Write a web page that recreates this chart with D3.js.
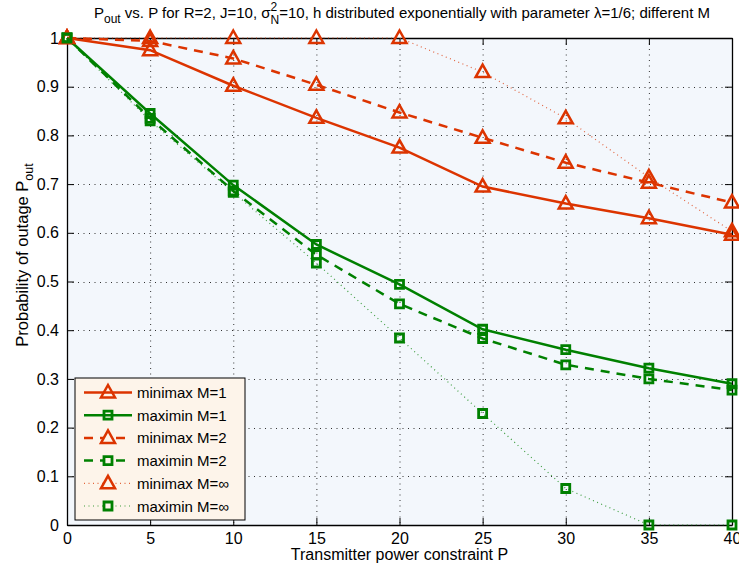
<!DOCTYPE html>
<html>
<head>
<meta charset="utf-8">
<script src="https://cdn.jsdelivr.net/npm/d3@7"></script>
<style>
  html, body { margin: 0; padding: 0; background: #fff; }
  svg { display: block; font-family: "Liberation Sans", Arial, sans-serif; }
</style>
</head>
<body>
<svg id="chart" width="739" height="571"></svg>
<script>
// 데이터 — 그림에서 읽은 값
var powerP = [0, 5, 10, 15, 20, 25, 30, 35, 40];
var minimaxM1   = [1.0, 0.975, 0.902, 0.836, 0.775, 0.695, 0.660, 0.630, 0.596];
var maximinM1   = [1.0, 0.845, 0.698, 0.576, 0.494, 0.402, 0.360, 0.322, 0.290];
var minimaxM2   = [1.0, 0.994, 0.958, 0.904, 0.847, 0.795, 0.744, 0.703, 0.662];
var maximinM2   = [1.0, 0.835, 0.686, 0.555, 0.454, 0.383, 0.329, 0.300, 0.277];
var minimaxMinf = [1.0, 1.0, 1.0, 1.0, 1.0, 0.930, 0.835, 0.714, 0.603];
var maximinMinf = [1.0, 0.830, 0.683, 0.538, 0.384, 0.229, 0.075, 0.0, 0.0];
var seriesNames = ["minimax M=1", "maximin M=1", "minimax M=2", "maximin M=2", "minimax M=\u221e", "maximin M=\u221e"];
var xTicks = [0, 5, 10, 15, 20, 25, 30, 35, 40];
var yTicks = [0, 0.1, 0.2, 0.3, 0.4, 0.5, 0.6, 0.7, 0.8, 0.9, 1];

(function () {
  "use strict";
  var RED = "#dc3400", GREEN = "#008000";
  var L = 67, R = 732, T = 38, B = 525;

  var STYLE = [
    { vals: minimaxM1,   color: RED,   dash: null,    w: 2.5, mark: "tri" },
    { vals: maximinM1,   color: GREEN, dash: null,    w: 2.5, mark: "sq" },
    { vals: minimaxM2,   color: RED,   dash: "9,7",   w: 2.5, mark: "tri" },
    { vals: maximinM2,   color: GREEN, dash: "9,7",   w: 2.5, mark: "sq" },
    { vals: minimaxMinf, color: RED,   dash: "1,3.5", w: 1.2, mark: "tri", light: true },
    { vals: maximinMinf, color: GREEN, dash: "1,3.5", w: 1.2, mark: "sq",  light: true }
  ];

  var x = d3.scaleLinear().domain([0, 40]).range([L, R]);
  var y = d3.scaleLinear().domain([0, 1]).range([B, T]);
  var svg = d3.select("#chart");

  svg.append("rect").attr("x", L).attr("y", T).attr("width", R - L).attr("height", B - T).attr("fill", "#f3f7fc");

  // 그리드 (점선)
  var grid = svg.append("g").attr("stroke", "#333").attr("stroke-width", 1).attr("stroke-dasharray", "1,4.5");
  xTicks.forEach(function (t) {
    if (t === 0 || t === 40) return;
    grid.append("line").attr("x1", x(t) + 0.5).attr("x2", x(t) + 0.5).attr("y1", T).attr("y2", B);
  });
  yTicks.forEach(function (t) {
    if (t === 0 || t === 1) return;
    grid.append("line").attr("x1", L).attr("x2", R).attr("y1", Math.round(y(t)) + 0.5).attr("y2", Math.round(y(t)) + 0.5);
  });

  // 축 (안쪽 눈금, 네 면)
  var tk = 7;
  svg.append("g").attr("transform", "translate(0," + B + ")")
    .call(d3.axisBottom(x).tickValues(xTicks).tickSizeInner(-tk).tickSizeOuter(0).tickPadding(8));
  svg.append("g").attr("transform", "translate(0," + T + ")")
    .call(d3.axisTop(x).tickValues(xTicks).tickSizeInner(-tk).tickSizeOuter(0).tickFormat(""));
  svg.append("g").attr("transform", "translate(" + L + ",0)")
    .call(d3.axisLeft(y).tickValues(yTicks).tickSizeInner(-tk).tickSizeOuter(0).tickPadding(8)
      .tickFormat(function (d) { return d === 0 || d === 1 ? String(d) : d3.format(".1f")(d); }));
  svg.append("g").attr("transform", "translate(" + R + ",0)")
    .call(d3.axisRight(y).tickValues(yTicks).tickSizeInner(-tk).tickSizeOuter(0).tickFormat(""));
  svg.selectAll(".domain").attr("stroke", "#000").attr("stroke-width", 1.3);
  svg.selectAll(".tick line").attr("stroke", "#000");
  svg.selectAll(".tick text").attr("font-size", 16).attr("fill", "#000")
    .attr("font-family", "Liberation Sans, Arial, sans-serif");

  function markPath(kind) {
    return kind === "tri" ? "M0,-7.5 L7,5 L-7,5 Z" : "M-4,-4 H4 V4 H-4 Z";
  }

  var line = d3.line().x(function (d, i) { return x(powerP[i]); }).y(function (d) { return y(d); });
  var plot = svg.append("g");
  STYLE.forEach(function (s) {
    var g = plot.append("g");
    g.append("path").attr("d", line(s.vals)).attr("fill", "none")
      .attr("stroke", s.color).attr("stroke-width", s.w)
      .attr("stroke-dasharray", s.dash).attr("opacity", s.light ? 0.75 : 1);
    s.vals.forEach(function (v, i) {
      g.append("path").attr("d", markPath(s.mark))
        .attr("transform", "translate(" + x(powerP[i]) + "," + y(v) + ")")
        .attr("fill", "none").attr("stroke", s.color).attr("stroke-width", s.mark === "sq" ? 2.8 : 2.5);
    });
  });

  // 범례
  var lg = svg.append("g");
  var LX = 75, LY = 378, LW = 170, LH = 142, rowH = 22.7;
  lg.append("rect").attr("x", LX).attr("y", LY).attr("width", LW).attr("height", LH)
    .attr("fill", "#fdf4ea").attr("stroke", "#000").attr("stroke-width", 1);
  STYLE.forEach(function (s, k) {
    var cy = LY + 14.5 + k * rowH;
    lg.append("line").attr("x1", LX + 9).attr("x2", LX + 57).attr("y1", cy).attr("y2", cy)
      .attr("stroke", s.color).attr("stroke-width", s.w).attr("stroke-dasharray", s.dash)
      .attr("opacity", s.light ? 0.75 : 1);
    lg.append("path").attr("d", markPath(s.mark)).attr("transform", "translate(" + (LX + 33) + "," + cy + ")")
      .attr("fill", s.dash ? "#fdf4ea" : "none").attr("stroke", s.color).attr("stroke-width", s.mark === "sq" ? 2.8 : 2.5);
    lg.append("text").attr("x", LX + 62).attr("y", cy + 5.5).attr("font-size", 15).text(seriesNames[k]);
  });

  // 제목
  var title = svg.append("text").attr("x", 402).attr("y", 18).attr("text-anchor", "middle").attr("font-size", 15);
  title.append("tspan").text("P");
  title.append("tspan").attr("font-size", 12).attr("dy", 5).text("out");
  title.append("tspan").attr("dy", -5).text(" vs. P for R=2, J=10, \u03c3");
  title.append("tspan").attr("font-size", 12).attr("dy", -7).text("2");
  title.append("tspan").attr("font-size", 12).attr("dx", -6.7).attr("dy", 13).text("N");
  title.append("tspan").attr("dy", -6).text("=10, h distributed exponentially with parameter \u03bb=1/6; different M");

  // 축 제목
  svg.append("text").attr("x", (L + R) / 2).attr("y", 560).attr("text-anchor", "middle")
    .attr("font-size", 16).text("Transmitter power constraint P");
  var yl = svg.append("text").attr("transform", "translate(28,255) rotate(-90)")
    .attr("text-anchor", "middle").attr("font-size", 16.5);
  yl.append("tspan").text("Probability of outage P");
  yl.append("tspan").attr("font-size", 12.5).attr("dy", 5).text("out");
})();
</script>
</body>
</html>
